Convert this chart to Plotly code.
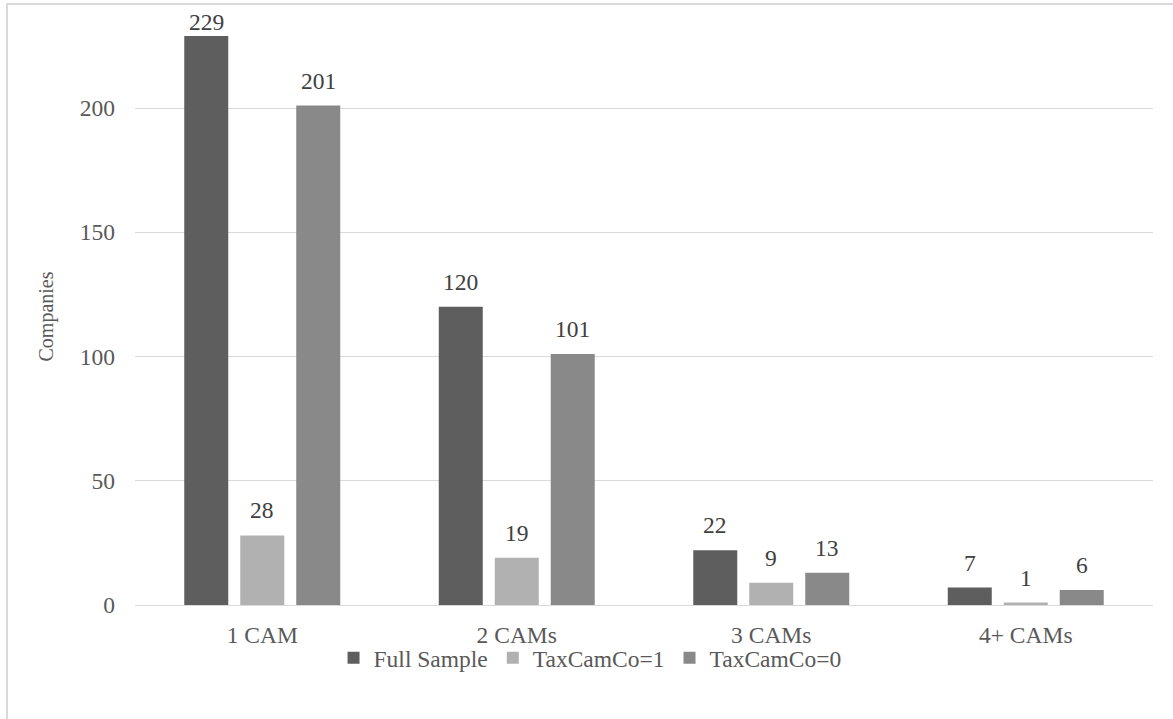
import plotly.graph_objects as go

categories = ["1 CAM", "2 CAMs", "3 CAMs", "4+ CAMs"]
full_sample = [229, 120, 22, 7]
taxcamco_1 = [28, 19, 9, 1]
taxcamco_0 = [201, 101, 13, 6]

series = [
    ("Full Sample", full_sample, "#5e5e5e"),
    ("TaxCamCo=1", taxcamco_1, "#b1b1b1"),
    ("TaxCamCo=0", taxcamco_0, "#898989"),
]

FONT = "Liberation Serif"
TEXT = "#595959"
LABEL = "#404040"
FS = 23.5

# plot geometry (pixels)
W, H = 1173, 719
L, R, T, B = 135, 20, 28, 114
Y_MAX = 232.2
plot_h = H - T - B
px_per_unit = plot_h / Y_MAX
slot = 56          # distance between neighbouring bars in a group
label_gap = 25     # bar top to label centre
label_min_top = 22 # labels never rise above this pixel row

fig = go.Figure()
annotations = []
for i, (name, vals, color) in enumerate(series):
    fig.add_trace(go.Bar(
        name=name,
        x=categories,
        y=vals,
        marker=dict(color=color, line=dict(width=0)),
    ))
    for cat, v in zip(categories, vals):
        top_px = T + plot_h - v * px_per_unit
        shift = min(label_gap, top_px - label_min_top)
        annotations.append(dict(
            x=cat, y=v, xref="x", yref="y",
            text=str(v), showarrow=False,
            xshift=(i - 1) * slot, yshift=shift,
            yanchor="middle", xanchor="center",
            font=dict(family=FONT, size=FS, color=LABEL),
        ))

fig.update_layout(
    width=W,
    height=H,
    margin=dict(l=L, r=R, t=T, b=B),
    paper_bgcolor="white",
    plot_bgcolor="white",
    barmode="group",
    bargap=0.34,
    bargroupgap=0.214,
    font=dict(family=FONT, size=FS, color=TEXT),
    showlegend=True,
    legend=dict(
        orientation="h",
        x=0.447, xanchor="center",
        y=-0.092, yanchor="middle",
        bgcolor="rgba(0,0,0,0)",
        font=dict(family=FONT, size=FS, color=TEXT),
    ),
    xaxis=dict(
        showgrid=False,
        showline=True,
        linecolor="#d9d9d9",
        linewidth=1,
        ticks="",
        ticklabelstandoff=9,
        tickfont=dict(family=FONT, size=FS, color=TEXT),
    ),
    yaxis=dict(
        range=[0, Y_MAX],
        tickvals=[0, 50, 100, 150, 200],
        showgrid=True,
        gridcolor="#d9d9d9",
        gridwidth=1,
        zeroline=True,
        zerolinecolor="#d9d9d9",
        zerolinewidth=1,
        showline=False,
        ticks="",
        ticklabelstandoff=19,
        tickfont=dict(family=FONT, size=FS, color=TEXT),
        title=dict(text="Companies", standoff=20,
                   font=dict(family=FONT, size=20, color=TEXT)),
    ),
    annotations=annotations,
    shapes=[dict(
        type="rect", xref="paper", yref="paper",
        x0=(7 - L) / (W - L - R), x1=(1185 - L) / (W - L - R),
        y0=(T + plot_h - 735) / plot_h, y1=(T + plot_h - 4) / plot_h,
        line=dict(color="#d9d9d9", width=2),
        fillcolor="rgba(0,0,0,0)",
        layer="below",
    )],
)

fig.write_html("out.html")
